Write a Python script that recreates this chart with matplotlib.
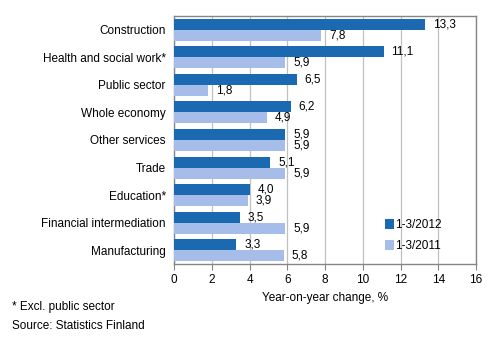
import numpy as np
import matplotlib.pyplot as plt

plt.rcParams["font.family"] = ["Liberation Sans", "DejaVu Sans"]

# Sectors listed top to bottom as in the chart.
categories = [
    "Construction",
    "Health and social work*",
    "Public sector",
    "Whole economy",
    "Other services",
    "Trade",
    "Education*",
    "Financial intermediation",
    "Manufacturing",
]
values_2012 = [13.3, 11.1, 6.5, 6.2, 5.9, 5.1, 4.0, 3.5, 3.3]
values_2011 = [7.8, 5.9, 1.8, 4.9, 5.9, 5.9, 3.9, 5.9, 5.8]
series_labels = ["1-3/2012", "1-3/2011"]
x_ticks = [0, 2, 4, 6, 8, 10, 12, 14, 16]

dark_blue = "#1b69b0"
light_blue = "#a6bde9"

fig = plt.figure(figsize=(4.96, 3.41), dpi=100)
ax = fig.add_axes([0.351, 0.226, 0.609, 0.727])

y = np.arange(len(categories))
bar_h = 0.4

bars_2012 = ax.barh(y - bar_h / 2, values_2012, height=bar_h, color=dark_blue,
                    label=series_labels[0], zorder=3)
bars_2011 = ax.barh(y + bar_h / 2, values_2011, height=bar_h, color=light_blue,
                    label=series_labels[1], zorder=3)

# Value labels with a comma as the decimal sign.
for bars, vals in [(bars_2012, values_2012), (bars_2011, values_2011)]:
    for bar, v in zip(bars, vals):
        ax.annotate(f"{v:.1f}".replace(".", ","),
                    xy=(v, bar.get_y() + bar.get_height() / 2),
                    xytext=(5.5, 0), textcoords="offset points",
                    ha="left", va="center", fontsize=8.5)

ax.set_ylim(len(categories) - 0.5, -0.5)
ax.set_xlim(0, 16)
ax.set_xticks(x_ticks)
ax.set_xticklabels([str(t) for t in x_ticks], fontsize=8.5)
ax.set_yticks(y)
ax.set_yticklabels(categories, fontsize=8.5)

ax.grid(axis="x", color="#c0c0c0", linewidth=0.9, zorder=0)
for s in ax.spines.values():
    s.set_color("#868686")
    s.set_linewidth(1.0)
ax.tick_params(axis="x", length=4, color="#868686", pad=3)
ax.tick_params(axis="y", length=0, pad=6)

ax.legend(loc="lower right", bbox_to_anchor=(0.92, 0.005), frameon=False,
          fontsize=8.5, handlelength=0.7, handleheight=0.9, handletextpad=0.1,
          labelspacing=0.75)

fig.text(0.655, 0.126, "Year-on-year change, %", ha="center", va="center", fontsize=8.5)
fig.text(0.024, 0.10, "* Excl. public sector", ha="left", va="center", fontsize=8.5)
fig.text(0.024, 0.044, "Source: Statistics Finland", ha="left", va="center", fontsize=8.5)

fig.savefig("out.png", dpi=100)
